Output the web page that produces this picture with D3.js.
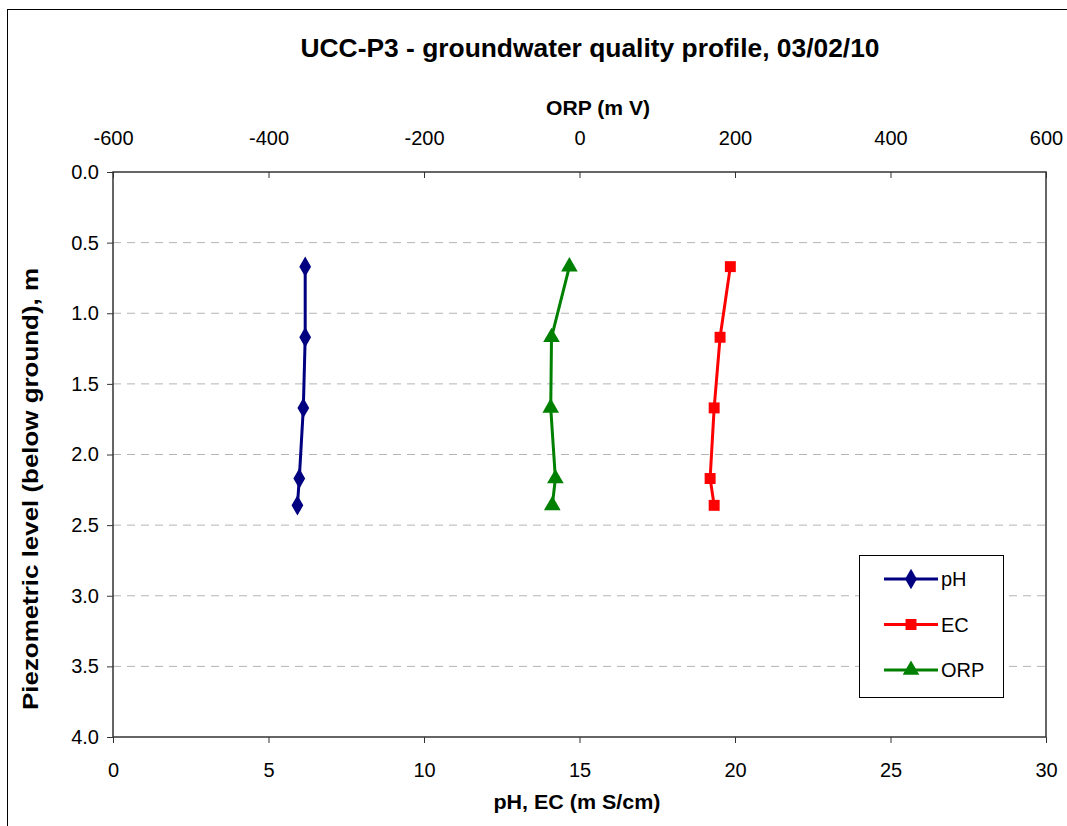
<!DOCTYPE html>
<html><head><meta charset="utf-8">
<script src="https://cdn.jsdelivr.net/npm/d3@7"></script>
<style>body{margin:0;background:#fff}svg{display:block}text{font-family:"Liberation Sans",Arial,sans-serif}</style>
</head><body><svg id="c" width="1067" height="826"></svg>
<script>
const depth = [0.67, 1.17, 1.67, 2.17, 2.36];
const pH = [6.18, 6.18, 6.12, 5.99, 5.93];
const EC = [19.85, 19.52, 19.33, 19.20, 19.33];
const ORP = [-13, -36, -37, -31, -35];
const depthTicks = [0, 0.5, 1, 1.5, 2, 2.5, 3, 3.5, 4];
const bottomTicks = [0, 5, 10, 15, 20, 25, 30];
const topTicks = [-600, -400, -200, 0, 200, 400, 600];
const seriesNames = ["pH", "EC", "ORP"];

const svg = d3.select("#c");
const L = 113, R = 1046, T = 172, B = 737;
const x = d3.scaleLinear().domain([0, 30]).range([L, R]);
const xo = d3.scaleLinear().domain([-600, 600]).range([L, R]);
const y = d3.scaleLinear().domain([0, 4]).range([T, B]);

// outer frame
svg.append("rect").attr("x", 7.5).attr("y", 9.5).attr("width", 1080).attr("height", 840)
  .attr("fill", "none").attr("stroke", "#000").attr("stroke-width", 1);

// gridlines
svg.append("g").selectAll("line").data(depthTicks.filter(d => d > 0 && d < 4)).join("line")
  .attr("x1", L).attr("x2", R).attr("y1", d => y(d)).attr("y2", d => y(d))
  .attr("stroke", "#b4b4b4").attr("stroke-width", 1).attr("stroke-dasharray", "8,6");

// plot border
svg.append("rect").attr("x", L).attr("y", T).attr("width", R - L).attr("height", B - T)
  .attr("fill", "none").attr("stroke", "#333").attr("stroke-width", 1.5);

const fs = "20px";
// left axis
const gl = svg.append("g").attr("transform", `translate(${L},0)`)
  .call(d3.axisLeft(y).tickValues(depthTicks).tickFormat(d => d.toFixed(1)).tickSize(6).tickPadding(8));
// bottom axis
const gb = svg.append("g").attr("transform", `translate(0,${B})`)
  .call(d3.axisBottom(x).tickValues(bottomTicks).tickFormat(d => String(d)).tickSize(6).tickPadding(20));
// top axis
const gt = svg.append("g").attr("transform", `translate(0,${T})`)
  .call(d3.axisTop(xo).tickValues(topTicks).tickFormat(d => String(d)).tickSize(-6).tickPadding(27));
[gl, gb, gt].forEach(g => {
  g.select(".domain").remove();
  g.selectAll("line").attr("stroke", "#333");
  g.selectAll("text").attr("font-size", fs).attr("fill", "#000")
    .style("font-family", '"Liberation Sans",Arial,sans-serif');
});

// titles
svg.append("text").attr("x", 590).attr("y", 57).attr("text-anchor", "middle")
  .attr("font-size", "25px").attr("font-weight", "bold")
  .attr("textLength", 579).attr("lengthAdjust", "spacingAndGlyphs")
  .text("UCC-P3 - groundwater quality profile, 03/02/10");
svg.append("text").attr("x", 598).attr("y", 115).attr("text-anchor", "middle")
  .attr("font-size", "21px").attr("font-weight", "bold")
  .attr("textLength", 104).attr("lengthAdjust", "spacingAndGlyphs").text("ORP (m V)");
svg.append("text").attr("x", 577).attr("y", 809).attr("text-anchor", "middle")
  .attr("font-size", "21px").attr("font-weight", "bold")
  .attr("textLength", 167).attr("lengthAdjust", "spacingAndGlyphs").text("pH, EC (m S/cm)");
svg.append("text").attr("transform", "translate(38,489) rotate(-90)").attr("text-anchor", "middle")
  .attr("font-size", "22px").attr("font-weight", "bold")
  .attr("textLength", 442).attr("lengthAdjust", "spacingAndGlyphs")
  .text("Piezometric level (below ground), m");

const colors = {pH: "#000080", EC: "#ff0000", ORP: "#008000"};
const shapes = {pH: d3.symbolDiamond, EC: d3.symbolSquare, ORP: d3.symbolTriangle};
const sizes = {pH: 120, EC: 120, ORP: 120};
const series = [
  {name: "pH", vals: pH, sx: x},
  {name: "EC", vals: EC, sx: x},
  {name: "ORP", vals: ORP, sx: xo}
];
const line = d3.line();
series.forEach(s => {
  const pts = s.vals.map((v, i) => [s.sx(v), y(depth[i])]);
  svg.append("path").attr("d", line(pts)).attr("fill", "none")
    .attr("stroke", colors[s.name]).attr("stroke-width", 3).attr("stroke-linejoin", "round");
  svg.append("g").selectAll("path").data(pts).join("path")
    .attr("transform", d => `translate(${d[0]},${d[1]})`)
    .attr("d", d3.symbol().type(shapes[s.name]).size(sizes[s.name]))
    .attr("fill", colors[s.name]);
});

// legend
const lg = svg.append("g");
lg.append("rect").attr("x", 859.5).attr("y", 555.5).attr("width", 144).attr("height", 142)
  .attr("fill", "#fff").attr("stroke", "#000").attr("stroke-width", 1);
seriesNames.forEach((n, i) => {
  const yy = 579 + i * 45.5;
  lg.append("line").attr("x1", 884).attr("x2", 938).attr("y1", yy).attr("y2", yy)
    .attr("stroke", colors[n]).attr("stroke-width", 3);
  lg.append("path").attr("transform", `translate(911,${yy})`)
    .attr("d", d3.symbol().type(shapes[n]).size(sizes[n])).attr("fill", colors[n]);
  lg.append("text").attr("x", 941).attr("y", yy + 7).attr("font-size", "20px").text(n);
});
</script></body></html>
